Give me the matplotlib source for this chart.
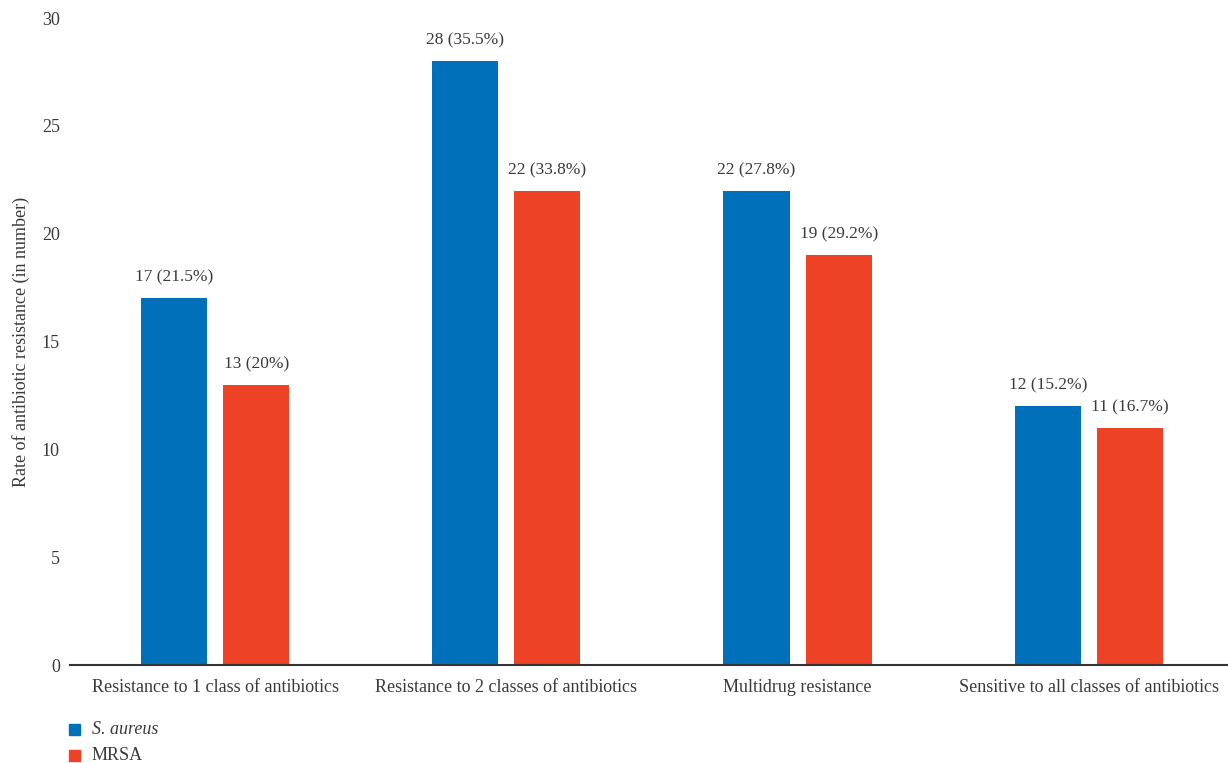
import matplotlib.pyplot as plt
import numpy as np

categories = ["Resistance to 1 class of antibiotics",
              "Resistance to 2 classes of antibiotics",
              "Multidrug resistance",
              "Sensitive to all classes of antibiotics"]
s_aureus = [17, 28, 22, 12]
s_aureus_pct = ["21.5%", "35.5%", "27.8%", "15.2%"]
mrsa = [13, 22, 19, 11]
mrsa_pct = ["20%", "33.8%", "29.2%", "16.7%"]

plt.rcParams['font.family'] = ['Liberation Serif', 'DejaVu Serif']
text_col = '#3a3a3a'

fig = plt.figure(figsize=(12.28, 7.63), dpi=100)
ax = fig.add_axes([0.0566, 0.1284, 0.9434, 0.848])

x = np.arange(len(categories))
w = 0.227
off = 0.141
b1 = ax.bar(x - off, s_aureus, w, color='#0070BA', label='S. aureus')
b2 = ax.bar(x + off, mrsa, w, color='#EE4226', label='MRSA')

for rect, v, p in zip(b1, s_aureus, s_aureus_pct):
    ax.annotate(f"{v} ({p})", (rect.get_x() + rect.get_width() / 2, v),
                xytext=(0, 9), textcoords='offset points',
                ha='center', va='bottom', fontsize=12.5, color=text_col)
for rect, v, p in zip(b2, mrsa, mrsa_pct):
    ax.annotate(f"{v} ({p})", (rect.get_x() + rect.get_width() / 2, v),
                xytext=(0, 9), textcoords='offset points',
                ha='center', va='bottom', fontsize=12.5, color=text_col)

ax.set_xlim(-0.5, 3.478)
ax.set_ylim(0, 30)
ax.set_yticks([0, 5, 10, 15, 20, 25, 30])
ax.set_xticks(x)
ax.set_xticklabels(categories)
ax.tick_params(axis='both', length=0, labelsize=13, colors=text_col)
ax.tick_params(axis='x', pad=10)
ax.tick_params(axis='y', pad=7)
for s in ['top', 'right', 'left']:
    ax.spines[s].set_visible(False)
ax.spines['bottom'].set_color('#333333')
ax.spines['bottom'].set_linewidth(1.5)

ax.set_ylabel("Rate of antibiotic resistance (in number)", fontsize=13,
              color=text_col)
ax.yaxis.set_label_coords(-0.034, 0.5)

# legend drawn as text + squares in figure coords
fig.patches.append(plt.Rectangle((69 / 1228, 1 - 735 / 763), 11 / 1228, 11 / 763,
                                 transform=fig.transFigure, color='#0070BA'))
fig.patches.append(plt.Rectangle((69 / 1228, 1 - 761 / 763), 11 / 1228, 11 / 763,
                                 transform=fig.transFigure, color='#EE4226'))
fig.text(92 / 1228, 1 - 729 / 763, "S. aureus", style='italic', fontsize=13,
         color=text_col, va='center')
fig.text(92 / 1228, 1 - 755 / 763, "MRSA", fontsize=13, color=text_col, va='center')

fig.savefig('out.png', dpi=100)
